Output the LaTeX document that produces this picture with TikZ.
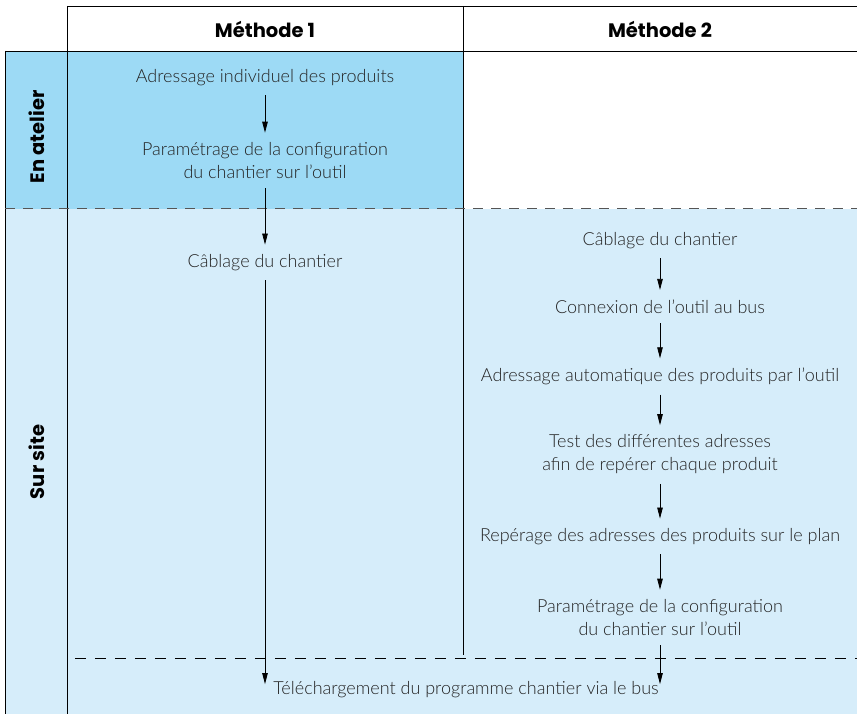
\documentclass[tikz,border=0pt]{standalone}
\usepackage{fontspec}
\setmainfont{Lato}[UprightFont={* Light}]
\newfontfamily\headfont{Poppins}
\usetikzlibrary{arrows.meta}
\definecolor{atelier}{RGB}{157,218,245}
\definecolor{site}{RGB}{214,237,250}
\definecolor{txt}{RGB}{35,35,35}
\definecolor{dashgray}{RGB}{85,85,85}
\begin{document}
\begin{tikzpicture}[x=1pt,y=-1pt,
  lbl/.style={font=\fontsize{18}{23}\selectfont, text=txt, align=center, inner sep=0pt, yshift=-1.5pt},
  head/.style={font=\headfont\bfseries\fontsize{19.5}{21}\selectfont, inner sep=0pt},
  side/.style={font=\headfont\bfseries\fontsize{19.5}{21}\selectfont, rotate=90, inner sep=0pt},
  flow/.style={-{Triangle[length=11pt,width=5.5pt]}, line width=0.8pt, shorten <=9.5pt, shorten >=9.5pt},
  flowlast/.style={flow, shorten >=-3pt},
  frame/.style={line width=0.8pt, draw=black},
  sepline/.style={line width=1pt, draw=dashgray, dash pattern=on 10pt off 8pt},
  sepline2/.style={line width=0.8pt, draw=black, dash pattern=on 11pt off 9pt}
]
\useasboundingbox (0,0) rectangle (857,714);
% backgrounds
\fill[site] (5,209) rectangle (857,714);
\fill[atelier] (5,51) rectangle (463,209);
% frame lines
\draw[frame] (67,6) -- (857,6);
\draw[frame] (5,51) -- (857,51);
\draw[frame] (5,51) -- (5,714);
\draw[frame] (67,6) -- (67,714);
\draw[frame] (463,6) -- (463,655);
\draw[sepline] (5,209) -- (857,209);
\draw[sepline2] (75,658) -- (857,658);
% headers
\node[head] (h1) at (265,29) {Méthode 1};
\node[head] (h2) at (660,29) {Méthode 2};
\node[side] (s1) at (37,137) {En atelier};
\node[side] (s2) at (37,462) {Sur site};
% method 1
\node[lbl] (a1) at (265,76) {Adressage individuel des produits};
\node[lbl] (p1) at (265,159) {Paramétrage de la configuration\\du chantier sur l'outil};
\node[lbl] (c1) at (265,261) {Câblage du chantier};
% method 2
\node[lbl] (c2) at (660,239) {Câblage du chantier};
\node[lbl] (k2) at (660,305) {Connexion de l'outil au bus};
\node[lbl] (ad2) at (660,375) {Adressage automatique des produits par l'outil};
\node[lbl] (t2) at (660,453) {Test des différentes adresses\\afin de repérer chaque produit};
\node[lbl] (r2) at (660,535) {Repérage des adresses des produits sur le plan};
\node[lbl] (p2) at (660,616) {Paramétrage de la configuration\\du chantier sur l'outil};
% common
\node[lbl] (dl) at (466,688) {Téléchargement du programme chantier via le bus};
% arrows
\draw[flow] (a1.south) -- (p1.north);
\draw[flow] (p1.south) -- (c1.north);
\draw[flowlast] (c1.south) -- (c1.south |- dl.north);
\draw[flow] (c2.south) -- (k2.north);
\draw[flow] (k2.south) -- (ad2.north);
\draw[flow] (ad2.south) -- (t2.north);
\draw[flow] (t2.south) -- (r2.north);
\draw[flow] (r2.south) -- (p2.north);
\draw[flowlast] (p2.south) -- (p2.south |- dl.north);
\end{tikzpicture}
\end{document}
